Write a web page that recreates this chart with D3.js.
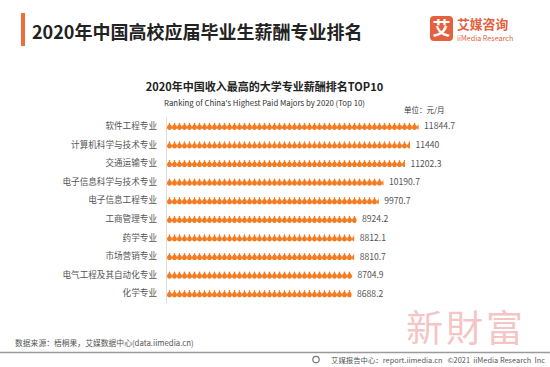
<!DOCTYPE html>
<html><head><meta charset="utf-8">
<script src="https://cdn.jsdelivr.net/npm/d3@7"></script>
<style>
html,body{margin:0;padding:0;background:#fff;}
svg{display:block;}
text{font-family:"Noto Sans CJK SC","Noto Sans",sans-serif;}
</style></head>
<body>
<svg id="c" width="550" height="367"></svg>
<script>
const categories = ["软件工程专业","计算机科学与技术专业","交通运输专业","电子信息科学与技术专业","电子信息工程专业","工商管理专业","药学专业","市场营销专业","电气工程及其自动化专业","化学专业"];
const values = [11844.7, 11440, 11202.3, 10190.7, 9970.7, 8924.2, 8812.1, 8810.7, 8704.9, 8688.2];
const valueLabels = ["11844.7","11440","11202.3","10190.7","9970.7","8924.2","8812.1","8810.7","8704.9","8688.2"];

const svg = d3.select("#c");
const ORANGE = "#f47b20";
const BRAND = "#e4603e";

// header
svg.append("rect").attr("x",21).attr("y",13).attr("width",4).attr("height",33).attr("fill","#f26b3a");
svg.append("text").attr("x",32).attr("y",38.5).attr("font-size",18).attr("font-weight","bold").attr("fill","#222")
  .text("2020年中国高校应届毕业生薪酬专业排名");

// logo
svg.append("rect").attr("x",430).attr("y",16).attr("width",23).attr("height",25).attr("rx",4).attr("fill",BRAND);
svg.append("text").attr("x",441.5).attr("y",35).attr("text-anchor","middle").attr("font-size",18).attr("font-weight","bold").attr("fill","#fff").text("艾");
svg.append("text").attr("x",457).attr("y",28.5).attr("font-size",12.8).attr("font-weight","bold").attr("fill",BRAND).text("艾媒咨询");
svg.append("text").attr("x",457).attr("y",40.5).attr("font-size",7.2).attr("fill",BRAND).attr("font-family","Open Sans, sans-serif").text("iiMedia Research");

// chart titles
svg.append("text").attr("x",264.5).attr("y",91).attr("text-anchor","middle").attr("font-size",11).attr("font-weight","bold").attr("fill","#222")
  .text("2020年中国收入最高的大学专业薪酬排名TOP10");
svg.append("text").attr("x",264.5).attr("y",105.5).attr("text-anchor","middle").attr("font-size",7.8).attr("fill","#333")
  .attr("font-family","Open Sans, sans-serif")
  .text("Ranking of China's Highest Paid Majors by 2020 (Top 10)");
svg.append("text").attr("x",404).attr("y",113).attr("font-size",7.5).attr("fill","#333").text("单位：元/月");

// scales
const x = d3.scaleLinear().domain([0,12000]).range([167, 421.9]);
const y = d3.scaleBand().domain(categories).range([117, 303]).padding(0);

// axis line (left)
const yAxis = d3.axisLeft(y).tickSize(0).tickPadding(9);
const gAxis = svg.append("g").attr("transform",`translate(${x(0)-1},0)`).call(yAxis);
gAxis.select(".domain").attr("stroke","#dcdcdc").attr("stroke-width",1);
gAxis.selectAll("text").attr("font-size",8.6).attr("fill","#555").attr("font-family",'"Noto Sans CJK SC",sans-serif');

// icon bars
const defs = svg.append("defs");
const pitch = 5;
const iconPath = "M2.5,0.6 C3.3,0.6 3.5,1.6 3.0,2.2 C4.4,3.0 5,4.2 5,5.4 C5,7.0 3.9,7.8 2.5,7.8 C1.1,7.8 0,7.0 0,5.4 C0,4.2 0.6,3.0 2.0,2.2 C1.5,1.6 1.7,0.6 2.5,0.6 Z";
const rows = svg.append("g");
categories.forEach((c,i)=>{
  const w = x(values[i]) - x(0);
  const cy = y(c) + y.bandwidth()/2;
  const id = "clip"+i;
  defs.append("clipPath").attr("id",id).append("rect")
    .attr("x",x(0)).attr("y",cy-5).attr("width",w).attr("height",10);
  const g = rows.append("g").attr("clip-path",`url(#${id})`);
  const n = Math.ceil(w/pitch);
  g.selectAll("path").data(d3.range(n)).join("path")
    .attr("d",iconPath)
    .attr("transform",d=>`translate(${x(0)+d*pitch},${cy-4.2})`)
    .attr("fill",ORANGE);
  svg.append("text").attr("x",x(values[i])+5.5).attr("y",cy+3).attr("font-size",8.6).attr("fill","#555")
    .attr("font-family","Open Sans, sans-serif").text(valueLabels[i]);
});

// watermark
svg.append("text").attr("x",466).attr("y",342).attr("text-anchor","middle").attr("font-size",37)
  .attr("font-family",'"Noto Serif CJK TC","Noto Sans CJK TC",serif').attr("fill","#f0a0a0").attr("opacity",0.6)
  .attr("letter-spacing",3).text("新財富");

// footer
svg.append("text").attr("x",15).attr("y",345.5).attr("font-size",7.8).attr("fill","#555")
  .text("数据来源：梧桐果，艾媒数据中心(data.iimedia.cn)");
svg.append("line").attr("x1",0).attr("x2",550).attr("y1",352.5).attr("y2",352.5).attr("stroke","#9a9a9a").attr("stroke-width",1.5);
svg.append("circle").attr("cx",316).attr("cy",359.5).attr("r",3.2).attr("fill","none").attr("stroke","#777").attr("stroke-width",1.2);
svg.append("text").attr("x",545).attr("y",362.5).attr("text-anchor","end").attr("font-size",7.4).attr("fill","#555")
  .attr("xml:space","preserve")
  .text("艾媒报告中心：report.iimedia.cn   ©2021  iiMedia Research  Inc");
</script>
</body></html>
